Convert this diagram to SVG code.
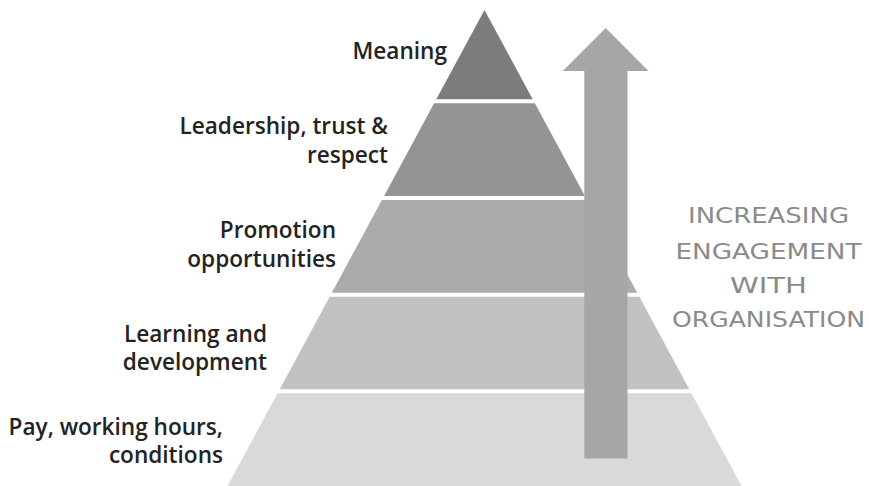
<svg xmlns="http://www.w3.org/2000/svg" width="869" height="486" viewBox="0 0 869 486">
  <style>
    .tier { stroke: none; }
    .lbl { font-family: "Open Sans", "Liberation Sans", sans-serif; font-size: 22.6px; font-weight: 600; fill: #232323; text-anchor: end; }
    .side { font-family: "DejaVu Sans", "Liberation Sans", sans-serif; font-size: 22px; fill: #8a8a8a; text-anchor: middle; }
  </style>

  <!-- pyramid tiers, apex (484.5,10), half-width grows 0.54 per px of depth -->
  <g id="tier-meaning">
    <polygon class="tier" points="484.5,10 532.7,99.3 436.3,99.3" fill="#7c7c7c"/>
    <text class="lbl" x="447" y="59">Meaning</text>
  </g>
  <g id="tier-leadership">
    <polygon class="tier" points="434.1,103.3 534.9,103.3 584.9,196 384.1,196" fill="#949494"/>
    <text class="lbl" x="388" y="134">Leadership, trust &amp;</text>
    <text class="lbl" x="388" y="163">respect</text>
  </g>
  <g id="tier-promotion">
    <polygon class="tier" points="381.9,200 587.1,200 637.2,292.7 331.8,292.7" fill="#ababab"/>
    <text class="lbl" x="336" y="238">Promotion</text>
    <text class="lbl" x="336" y="267">opportunities</text>
  </g>
  <g id="tier-learning">
    <polygon class="tier" points="329.7,296.7 639.3,296.7 689.3,389.3 279.7,389.3" fill="#c2c2c2"/>
    <text class="lbl" x="267" y="342">Learning and</text>
    <text class="lbl" x="267" y="370">development</text>
  </g>
  <g id="tier-pay">
    <polygon class="tier" points="277.5,393.3 691.5,393.3 741.5,486 227.5,486" fill="#d9d9d9"/>
    <text class="lbl" x="223" y="435">Pay, working hours,</text>
    <text class="lbl" x="223" y="463">conditions</text>
  </g>

  <!-- upward arrow -->
  <g id="engagement-arrow">
    <polygon points="605.7,28 648.5,71 627.5,71 627.5,458.5 584.3,458.5 584.3,71 562.8,71" fill="#a6a6a6"/>
  </g>

  <g id="engagement-label">
    <text class="side" x="768.5" y="223" textLength="161" lengthAdjust="spacingAndGlyphs">INCREASING</text>
    <text class="side" x="768.5" y="258.5" textLength="186" lengthAdjust="spacingAndGlyphs">ENGAGEMENT</text>
    <text class="side" x="768.5" y="293" textLength="77" lengthAdjust="spacingAndGlyphs">WITH</text>
    <text class="side" x="768.5" y="327" textLength="193" lengthAdjust="spacingAndGlyphs">ORGANISATION</text>
  </g>
</svg>
